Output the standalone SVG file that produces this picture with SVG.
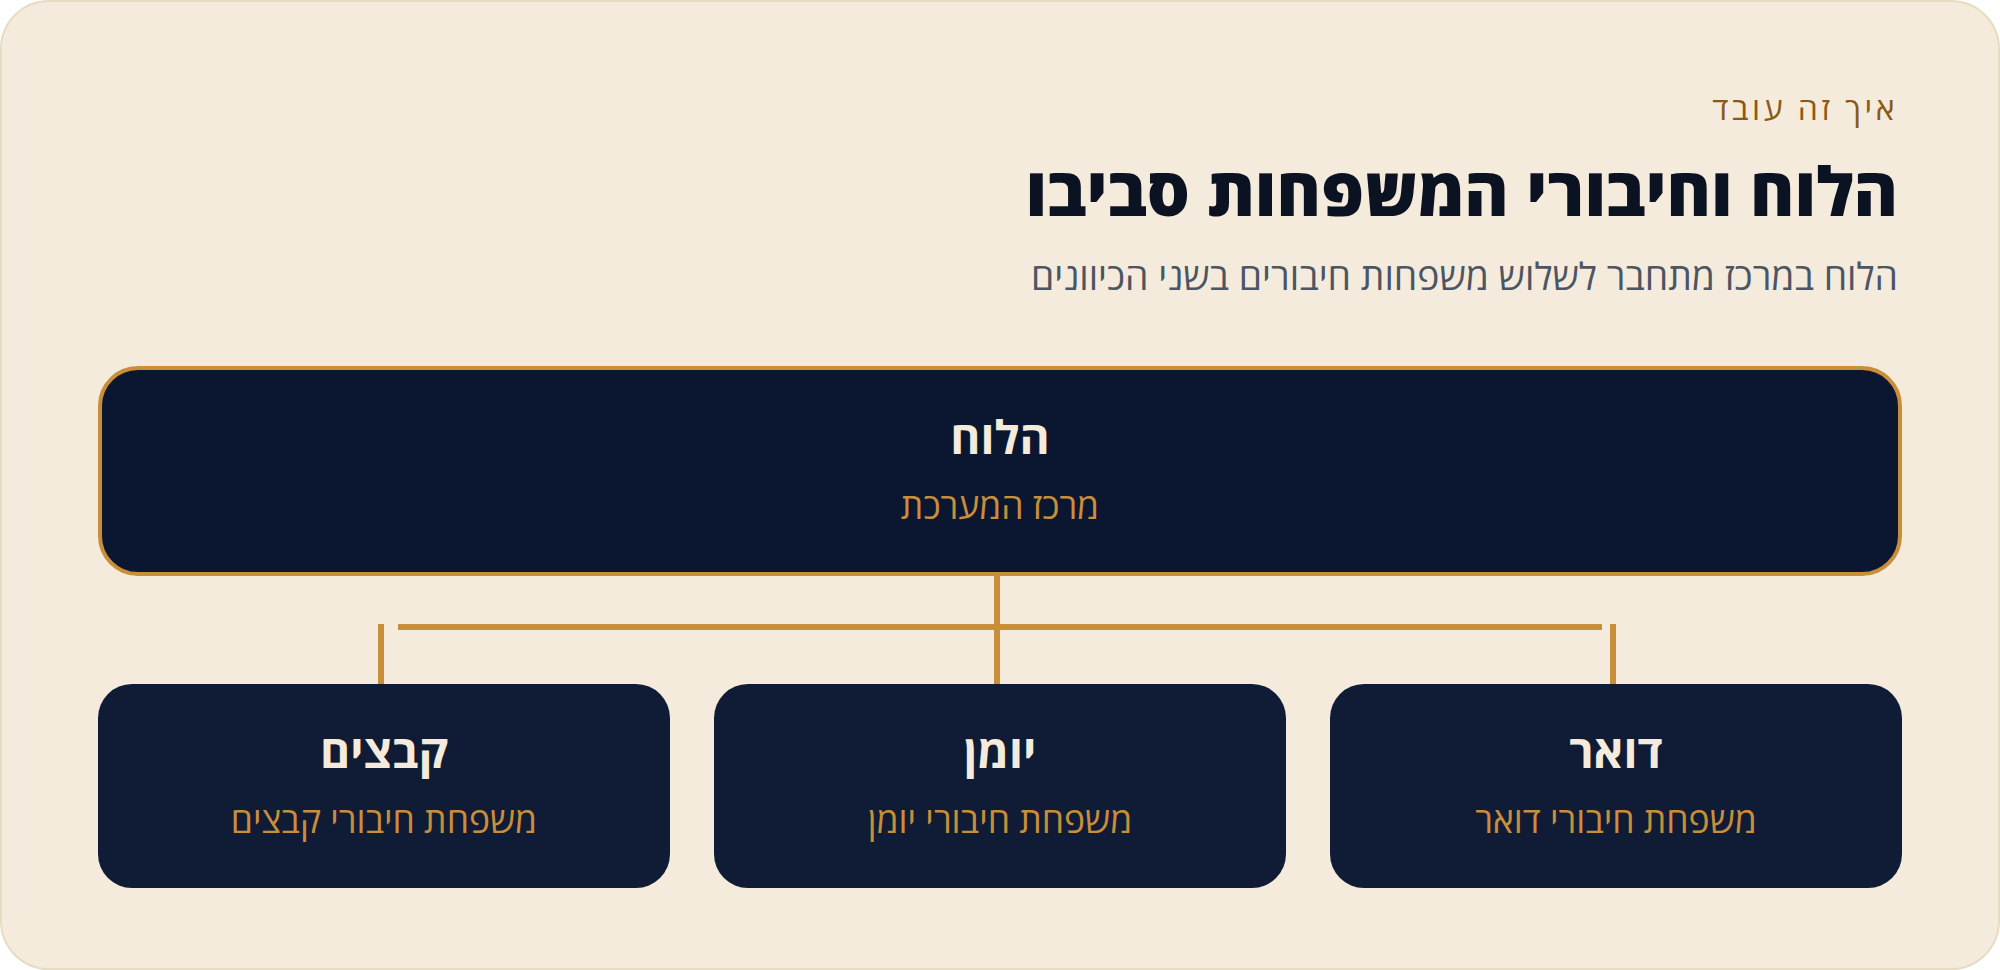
<svg xmlns="http://www.w3.org/2000/svg" width="2000" height="970" viewBox="0 0 2000 970">
  <style>
    .t { font-family: "Open Sans", "Noto Sans", "DejaVu Sans", sans-serif; }
    .kicker { font-size: 32px; fill: #8A5A14; letter-spacing: 3.5px; }
    .title { font-size: 67.5px; font-weight: 800; fill: #0B1222; }
    .sub { font-size: 37.3px; fill: #4B5563; }
    .ntitle { font-size: 46px; font-weight: bold; fill: #F5EBDC; }
    .nsub { font-size: 35.5px; fill: #C98E3A; }
    .conn { stroke: #C98E3A; stroke-width: 6; fill: none; }
    .child { fill: #101C35; }
  </style>
  <rect x="1" y="1" width="1998" height="968" rx="48" fill="#F5EBDC" stroke="#E6DCC2" stroke-width="2"/>
  <text class="t kicker" x="1898" y="120" text-anchor="end">איך זה עובד</text>
  <text class="t title" x="1898" y="216" text-anchor="end">הלוח וחיבורי המשפחות סביבו</text>
  <text class="t sub" x="1898" y="290" text-anchor="end">הלוח במרכז מתחבר לשלוש משפחות חיבורים בשני הכיוונים</text>

  <g id="connectors">
    <line class="conn" x1="997" y1="576" x2="997" y2="684"/>
    <line class="conn" x1="398" y1="627" x2="1602" y2="627"/>
    <line class="conn" x1="381" y1="624" x2="381" y2="684"/>
    <line class="conn" x1="1613" y1="624" x2="1613" y2="684"/>
  </g>

  <g id="node-board">
    <rect x="100" y="368" width="1800" height="206" rx="38" fill="#0B1731" stroke="#C98E3A" stroke-width="4"/>
    <text class="t ntitle" x="1000" y="454" text-anchor="middle">הלוח</text>
    <text class="t nsub" x="1000" y="519" text-anchor="middle">מרכז המערכת</text>
  </g>

  <g id="node-files">
    <rect class="child" x="98" y="684" width="572" height="204" rx="34"/>
    <text class="t ntitle" x="384" y="768" text-anchor="middle">קבצים</text>
    <text class="t nsub" x="384" y="833" text-anchor="middle">משפחת חיבורי קבצים</text>
  </g>

  <g id="node-calendar">
    <rect class="child" x="714" y="684" width="572" height="204" rx="34"/>
    <text class="t ntitle" x="1000" y="768" text-anchor="middle">יומן</text>
    <text class="t nsub" x="1000" y="833" text-anchor="middle">משפחת חיבורי יומן</text>
  </g>

  <g id="node-mail">
    <rect class="child" x="1330" y="684" width="572" height="204" rx="34"/>
    <text class="t ntitle" x="1616" y="768" text-anchor="middle">דואר</text>
    <text class="t nsub" x="1616" y="833" text-anchor="middle">משפחת חיבורי דואר</text>
  </g>
</svg>
